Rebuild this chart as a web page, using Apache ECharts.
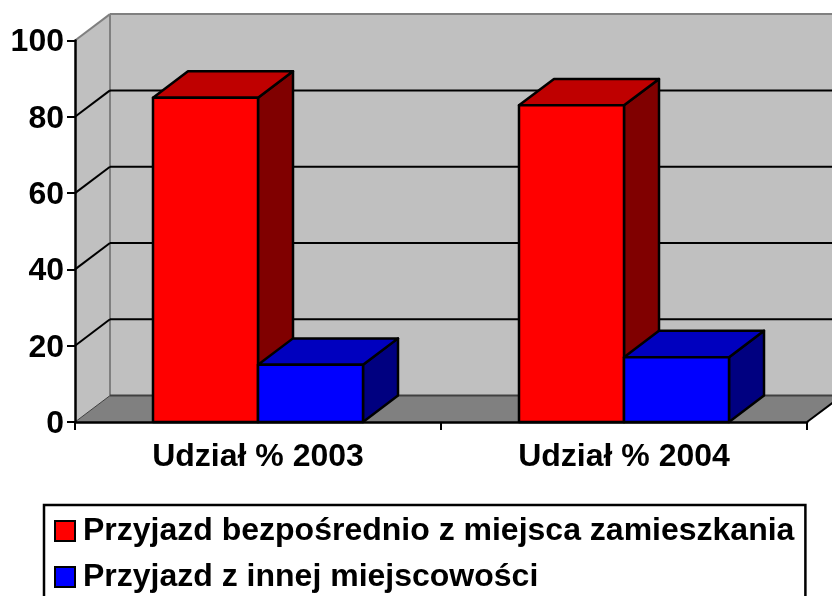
<!DOCTYPE html>
<html><head><meta charset="utf-8">
<style>html,body{margin:0;padding:0;background:#fff}#c{width:832px;height:596px}</style>
<script src="https://cdn.jsdelivr.net/npm/echarts@6/dist/echarts.min.js"></script>
</head><body><div id="c"></div>
<script>
const categories = ['Udział % 2003', 'Udział % 2004'];
const direct = [85, 83];
const other = [15, 17];
const yTicks = [0, 20, 40, 60, 80, 100];
const seriesNames = ['Przyjazd bezpośrednio z miejsca zamieszkania', 'Przyjazd z innej miejscowości'];

const DX = 35, DY = -26.4;
const FONT = '"Liberation Sans", Arial, sans-serif';
const chart = echarts.init(document.getElementById('c'), null, {renderer: 'canvas'});

function poly(points, fill, stroke, lw) {
  return {type: 'polygon', shape: {points}, style: {fill, stroke: stroke || 'none', lineWidth: lw || 0, lineJoin: 'round'}};
}
function line(a, b, stroke, lw) {
  return {type: 'line', shape: {x1: a[0], y1: a[1], x2: b[0], y2: b[1]}, style: {stroke, lineWidth: lw}};
}
function wallsItem(params, api) {
  const cs = params.coordSys;
  const L = cs.x, R = cs.x + cs.width, T = cs.y, B = cs.y + cs.height;
  return {type: 'group', children: [
    poly([[L, T], [L + DX, T + DY], [L + DX, B + DY], [L, B]], '#c0c0c0'),
    poly([[L + DX, T + DY], [R + DX, T + DY], [R + DX, B + DY], [L + DX, B + DY]], '#c0c0c0'),
    poly([[L, B], [L + DX, B + DY], [R + DX, B + DY], [R, B]], '#808080'),
    line([L + DX, T + DY], [R + DX, T + DY], '#808080', 2),
    line([L + DX, T + DY], [L + DX, B + DY], '#808080', 2),
    line([L, T], [L + DX, T + DY], '#808080', 2),
    line([R, B], [R + DX, B + DY], '#000000', 2)
  ]};
}
function gridItem(params, api) {
  const cs = params.coordSys;
  const v = api.value(0);
  const y = api.coord([0, v])[1];
  const L = cs.x, R = cs.x + cs.width;
  if (v === 100) return {type: 'group', children: []};
  if (v === 0) return {type: 'group', children: [
    line([L, y], [L + DX, y + DY], '#404040', 1),
    line([L + DX, y + DY], [R + DX, y + DY], '#404040', 2)
  ]};
  return {type: 'group', children: [
    line([L, y], [L + DX, y + DY], '#000000', 2),
    line([L + DX, y + DY], [R + DX, y + DY], '#000000', 2)
  ]};
}
function barItem(sign, front, top, side) {
  return function (params, api) {
    const idx = api.value(0), val = api.value(1);
    const band = api.size([1, 0])[0];
    const w = band * 0.2869;
    const p = api.coord([idx, val]), b = api.coord([idx, 0]);
    const x0 = sign < 0 ? p[0] - w : p[0], x1 = x0 + w;
    const yt = p[1], yb = b[1];
    const s = '#000000', lw = 2.5;
    return {type: 'group', children: [
      poly([[x1, yb], [x1 + DX, yb + DY], [x1 + DX, yt + DY], [x1, yt]], side, s, lw),
      poly([[x0, yt], [x0 + DX, yt + DY], [x1 + DX, yt + DY], [x1, yt]], top, s, lw),
      poly([[x0, yt], [x1, yt], [x1, yb], [x0, yb]], front, s, lw)
    ]};
  };
}
chart.setOption({
  animation: false,
  backgroundColor: '#ffffff',
  grid: {left: 75, right: 25, top: 40.5, bottom: 174},
  xAxis: {
    type: 'category', data: categories, boundaryGap: true,
    axisLine: {show: true, lineStyle: {color: '#000', width: 2.5}},
    axisTick: {show: true, inside: false, length: 8, alignWithLabel: false, lineStyle: {color: '#000', width: 2}},
    axisLabel: {color: '#000', fontFamily: FONT, fontWeight: 'bold', fontSize: 32, margin: 19},
    splitLine: {show: false}, z: 5
  },
  yAxis: {
    type: 'value', min: 0, max: 100, interval: 20,
    axisLine: {show: true, onZero: false, lineStyle: {color: '#000', width: 2.5}},
    axisTick: {show: true, length: 8, lineStyle: {color: '#000', width: 2}},
    axisLabel: {color: '#000', fontFamily: FONT, fontWeight: 'bold', fontSize: 32, margin: 11, verticalAlign: 'top', lineHeight: 4},
    splitLine: {show: false}, z: 5
  },
  legend: {
    orient: 'vertical', left: 44, top: 505, height: 130,
    data: seriesNames,
    icon: 'rect', itemWidth: 20, itemHeight: 20, itemGap: 10,
    padding: [8, 11, 12, 10],
    borderColor: '#000', borderWidth: 2.5, backgroundColor: '#fff',
    selectedMode: false,
    itemStyle: {borderColor: '#000', borderWidth: 2},
    textStyle: {color: '#000', fontFamily: FONT, fontWeight: 'bold', fontSize: 32, lineHeight: 36, padding: [0, 0, 0, 3]}
  },
  series: [
    {type: 'custom', name: 'walls', coordinateSystem: 'cartesian2d', silent: true, z: 1, data: [[0]], renderItem: wallsItem},
    {type: 'custom', name: 'grid', coordinateSystem: 'cartesian2d', silent: true, z: 2, data: yTicks.map(v => [v]), encode: {y: 0}, renderItem: gridItem},
    {type: 'custom', name: seriesNames[0], coordinateSystem: 'cartesian2d', z: 3, itemStyle: {color: '#ff0000'},
      data: direct.map((v, i) => [i, v]), encode: {x: 0, y: 1}, renderItem: barItem(-1, '#ff0000', '#bf0000', '#800000')},
    {type: 'custom', name: seriesNames[1], coordinateSystem: 'cartesian2d', z: 4, itemStyle: {color: '#0000ff'},
      data: other.map((v, i) => [i, v]), encode: {x: 0, y: 1}, renderItem: barItem(1, '#0000ff', '#0000bf', '#000080')}
  ]
});
</script></body></html>
